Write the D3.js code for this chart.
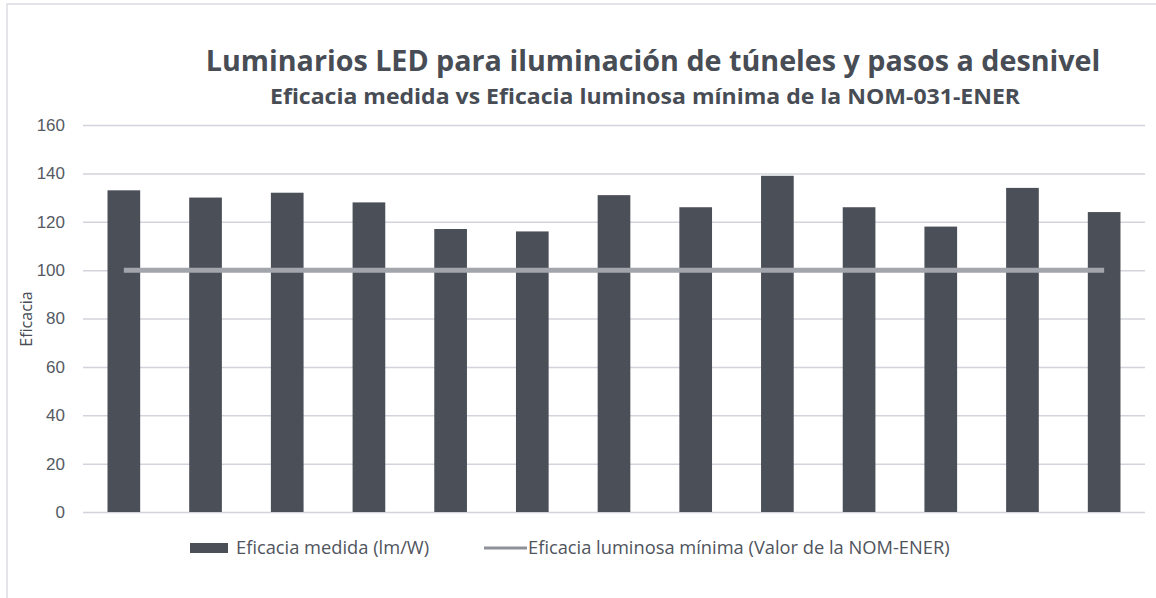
<!DOCTYPE html>
<html>
<head>
<meta charset="utf-8">
<script src="https://cdn.jsdelivr.net/npm/d3@7"></script>
<style>
  body { margin: 0; background: #fff; }
  svg { display: block; font-family: "Open Sans", "Noto Sans", sans-serif; }
</style>
</head>
<body>
<div id="chart"></div>
<script>
// luminarios LED - eficacia medida vs minimo NOM

var luminarios = ["L1", "L2", "L3", "L4", "L5", "L6", "L7", "L8", "L9", "L10", "L11", "L12", "L13"];
var eficaciaMedida = [133, 130, 132, 128, 117, 116, 131, 126, 139, 126, 118, 134, 124];
var eficaciaMinima = [100, 100, 100, 100, 100, 100, 100, 100, 100, 100, 100, 100, 100];
var yTicks = [0, 20, 40, 60, 80, 100, 120, 140, 160];

var width = 1156,
    height = 598,
    margin = {top: 125, right: 11, bottom: 86, left: 83};

var svg = d3.select("#chart").append("svg")
    .attr("width", width)
    .attr("height", height);

// marco del grafico
svg.append("rect")
    .attr("x", 7).attr("y", 4)
    .attr("width", width + 10).attr("height", height + 10)
    .style("fill", "none")
    .style("stroke", "#dcdce2")
    .style("stroke-width", 1.5);

var x = d3.scaleBand()
    .domain(luminarios)
    .range([margin.left, width - margin.right])
    .paddingInner(0.6)
    .paddingOuter(0.3);

var y = d3.scaleLinear()
    .domain([0, 160])
    .range([height - margin.bottom, margin.top]);

// gridlines + tick labels
var yAxis = svg.append("g")
    .attr("transform", "translate(" + margin.left + ",0)")
    .call(d3.axisLeft(y).tickValues(yTicks).tickSize(-(width - margin.left - margin.right)).tickPadding(18));

yAxis.select(".domain").remove();
yAxis.selectAll(".tick line")
    .style("stroke", "#d3d3dd")
    .style("stroke-width", 1.5);
yAxis.selectAll(".tick text")
    .style("font-size", "17px")
    .style("fill", "#555a63");

// bars
svg.selectAll("rect.bar")
    .data(eficaciaMedida)
    .enter()
    .append("rect")
    .attr("class", "bar")
    .attr("x", function(d, i) { return x(luminarios[i]); })
    .attr("y", function(d) { return y(d); })
    .attr("width", x.bandwidth())
    .attr("height", function(d) { return y(0) - y(d); })
    .style("fill", "#4b4f58");

// linea del minimo
var line = d3.line()
    .x(function(d, i) { return x(luminarios[i]) + x.bandwidth() / 2; })
    .y(function(d) { return y(d); });

svg.append("path")
    .datum(eficaciaMinima)
    .attr("d", line)
    .style("fill", "none")
    .style("stroke", "#a2a5ab")
    .style("stroke-width", 5);

// titles
svg.append("text")
    .attr("x", 653).attr("y", 71)
    .attr("text-anchor", "middle")
    .style("font-size", "28.7px")
    .style("font-weight", "bold")
    .style("fill", "#474c55")
    .text("Luminarios LED para iluminación de túneles y pasos a desnivel");

svg.append("text")
    .attr("x", 645).attr("y", 104)
    .attr("text-anchor", "middle")
    .style("font-size", "21px")
    .style("font-weight", "bold")
    .style("fill", "#474c55")
    .attr("textLength", 750)
    .attr("lengthAdjust", "spacingAndGlyphs")
    .text("Eficacia medida vs Eficacia luminosa mínima de la NOM-031-ENER");

// y label
svg.append("text")
    .attr("transform", "translate(32,319) rotate(-90)")
    .attr("text-anchor", "middle")
    .style("font-size", "16px")
    .style("fill", "#474c55")
    .text("Eficacia");

// legend
var leg = svg.append("g").attr("transform", "translate(0,548)");
leg.append("rect")
    .attr("x", 190).attr("y", -5)
    .attr("width", 38).attr("height", 10)
    .style("fill", "#4b4f58");
leg.append("text")
    .attr("x", 236).attr("y", 6)
    .style("font-size", "18.3px")
    .style("fill", "#4f545d")
    .text("Eficacia medida (lm/W)");
leg.append("line")
    .attr("x1", 484).attr("x2", 527)
    .attr("y1", 0).attr("y2", 0)
    .style("stroke", "#8e9198")
    .style("stroke-width", 3);
leg.append("text")
    .attr("x", 528).attr("y", 6)
    .style("font-size", "18.3px")
    .style("fill", "#4f545d")
    .text("Eficacia luminosa mínima (Valor de la NOM-ENER)");
</script>
</body>
</html>
